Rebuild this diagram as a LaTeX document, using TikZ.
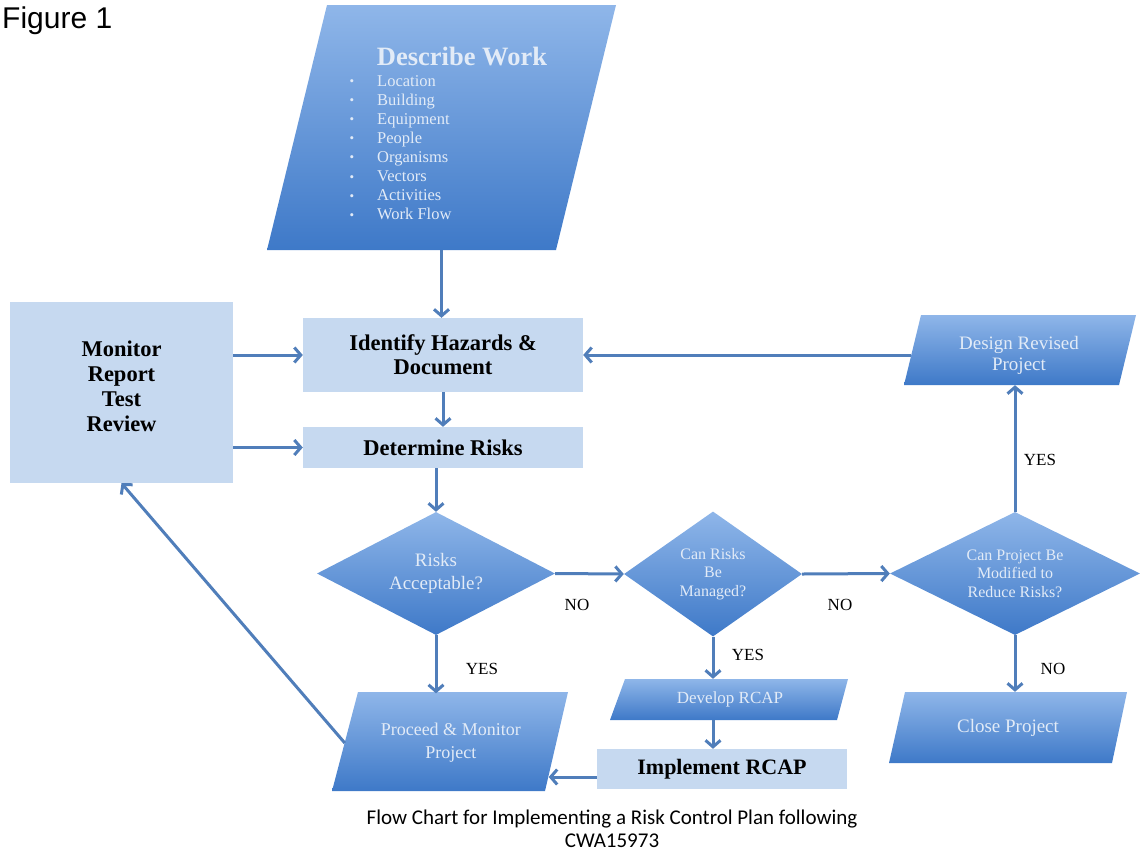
\documentclass[tikz,border=0pt]{standalone}
\usepackage{fontspec}
\setmainfont{Liberation Serif}
\newfontfamily\capfont{Carlito}
\newfontfamily\figfont{Liberation Sans}
\usetikzlibrary{arrows.meta,shapes.geometric,calc}
\definecolor{lightbox}{RGB}{198,217,240}
\definecolor{topblue}{RGB}{143,182,233}
\definecolor{botblue}{RGB}{62,121,200}
\definecolor{arrowc}{RGB}{80,126,186}
\definecolor{paletxt}{RGB}{226,235,247}
\newcommand{\myfs}[2]{\fontsize{#1}{#2}\selectfont}
\begin{document}
\begin{tikzpicture}[x=1pt,y=-1pt,
  lbox/.style={fill=lightbox,draw=none,inner sep=0pt,align=center,text=black,font=\bfseries\myfs{22.5}{24}},
  dshape/.style={top color=topblue,bottom color=botblue,draw=none},
  holder/.style={draw=none,inner sep=0pt,align=center,text=paletxt},
  dia/.style={diamond,aspect=2,inner sep=0pt,align=center,text=paletxt,top color=topblue,bottom color=botblue,draw=none},
  conn/.style={draw=arrowc,line width=3pt,-{Straight Barb[length=6.5pt,width=15pt]}},
  lab/.style={font=\myfs{17}{18},text=black,inner sep=0pt}]
\useasboundingbox (0,0) rectangle (1140,852);

% title
\node[font=\figfont\myfs{30}{32},anchor=base west,inner sep=0pt] (fig) at (2,28) {Figure 1};

% Describe Work
\shade[dshape] (327,5) -- (616,5) -- (556,250) -- (267,250) -- cycle;
\node[holder,minimum width=200pt,minimum height=245pt] (describe) at (441.5,127.5) {};
\node[text=paletxt,font=\bfseries\myfs{26.5}{28}] (dtitle) at (462,57) {Describe Work};
\foreach \t [count=\i from 0] in {Location,Building,Equipment,People,Organisms,Vectors,Activities,Work Flow} {
  \node[text=paletxt,font=\myfs{16.5}{17},anchor=base west,inner sep=0pt] (item\i) at (377,{86+19.1*\i}) {\t};
  \node[text=paletxt,font=\myfs{13}{14},anchor=base,inner sep=0pt] (bul\i) at (352,{85.5+19.1*\i}) {\textbullet};
}

% light boxes
\node[lbox,minimum width=223pt,minimum height=181pt] (monitor) at (121.5,392.5) {};
\node[text=black,font=\bfseries\myfs{22.5}{25},align=center] (montext) at (121.5,386) {Monitor\\Report\\Test\\Review};
\node[lbox,minimum width=280pt,minimum height=74pt] (identify) at (443,355) {Identify Hazards \&\\Document};
\node[lbox,minimum width=280pt,minimum height=41pt] (determine) at (443,447.5) {Determine Risks};
\node[lbox,minimum width=250pt,minimum height=40pt,font=\bfseries\myfs{22}{24}] (implement) at (722,769) {Implement RCAP};

% diamonds
\node[dia,minimum width=238pt,minimum height=123pt,font=\myfs{19}{23}] (d1) at (436,573.5) {Risks\\Acceptable?};
\node[dia,minimum width=178pt,minimum height=125pt,font=\myfs{16}{18.5}] (d2) at (713,574) {Can Risks\\Be\\Managed?};
\node[dia,minimum width=250pt,minimum height=123pt,font=\myfs{16}{18.5}] (d3) at (1015,573.5) {Can Project Be\\Modified to\\Reduce Risks?};

% Design Revised Project
\shade[dshape] (921,315) -- (1136,315) -- (1119,385) -- (904,385) -- cycle;
\node[holder,minimum width=216pt,minimum height=60pt,font=\myfs{19}{21}] (design) at (1019,355) {Design Revised\\Project};

% Close Project
\shade[dshape] (905,692) -- (1127,692) -- (1112,763) -- (889,763) -- cycle;
\node[holder,minimum width=200pt,minimum height=71pt,font=\myfs{19}{21}] (close) at (1008,727.5) {Close Project};

% Develop RCAP
\shade[dshape] (625,679) -- (848,679) -- (837,720) -- (610,720) -- cycle;
\node[holder,minimum width=200pt,minimum height=41pt,font=\myfs{17}{19}] (develop) at (730,699.5) {Develop RCAP};

% Proceed & Monitor Project
\shade[dshape] (358,692) -- (568,692) -- (545,791) -- (332,791) -- cycle;
\node[holder,minimum width=211.5pt,minimum height=99pt,font=\myfs{18}{23}] (proceed) at (450.75,743) {Proceed \& Monitor\\Project};

% connectors
\draw[conn] (describe.south) -- (describe.south |- identify.north);
\draw[conn] (identify.south) -- (determine.north);
\draw[conn] (d1.north |- determine.south) -- (d1.north);
\draw[conn] (monitor.east |- identify.west) -- (identify.west);
\draw[conn] (monitor.east |- determine.west) -- (determine.west);
\draw[conn] (d1.east) -- (d2.west);
\draw[conn] (d2.east) -- (d3.west);
\draw[conn] (d3.north) -- (d3.north |- design.south);
\draw[conn] (design.west) -- (design.west -| identify.east);
\draw[conn] (d3.south) -- (d3.south |- close.north);
\draw[conn] (d1.south) -- (d1.south |- proceed.north);
\draw[conn] (d2.south) -- (d2.south |- develop.north);
\draw[conn] (d2.south |- develop.south) -- (d2.south |- implement.north);
\draw[conn] ($(implement.west)+(0,8)$) -- ($(proceed.east)+(-8,34)$);
\draw[conn] (proceed.west) -- (monitor.south);

% labels
\node[lab] (no1) at (577,605) {NO};
\node[lab] (no2) at (840,605) {NO};
\node[lab] (no3) at (1053,669) {NO};
\node[lab] (yes1) at (482,669) {YES};
\node[lab] (yes2) at (748,655) {YES};
\node[lab] (yes3) at (1040,460) {YES};

% caption
\node[font=\capfont\myfs{21}{23},align=center] (caption) at (612,829) {Flow Chart for Implementing a Risk Control Plan following\\CWA15973};
\end{tikzpicture}
\end{document}
